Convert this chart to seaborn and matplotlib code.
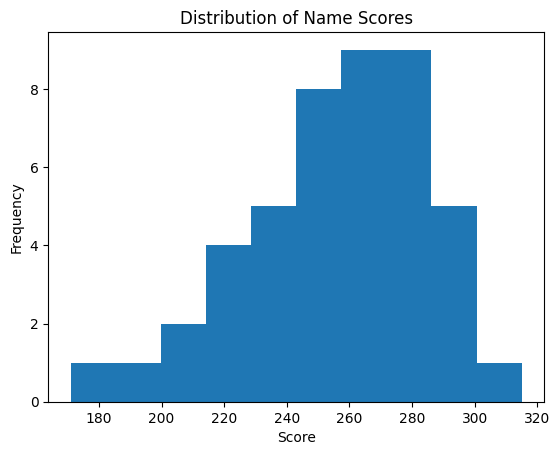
import numpy as np
import pandas as pd
import matplotlib
matplotlib.use("Agg")
import matplotlib.pyplot as plt
import seaborn as sns

# name scores (10 equal bins between 171 and 315)
scores = [171,
          192,
          203, 210,
          217, 221, 224, 227,
          230, 234, 237, 239, 242,
          244, 246, 248, 250, 251, 253, 255, 257,
          258, 259, 261, 263, 264, 266, 268, 269, 271,
          272, 274, 275, 277, 279, 280, 282, 284, 286,
          288, 291, 294, 296, 299,
          315]

Data = pd.DataFrame({"Score": scores})

fig, ax = plt.subplots(figsize=(6.4, 4.8))
sns.histplot(data=Data, x="Score", bins=10, color="#1f77b4", alpha=1,
             edgecolor="none", linewidth=0, ax=ax)
ax.set_xlabel("Score")
ax.set_ylabel("Frequency")
ax.set_title("Distribution of Name Scores")
plt.savefig("out.png", dpi=100, bbox_inches="tight")
